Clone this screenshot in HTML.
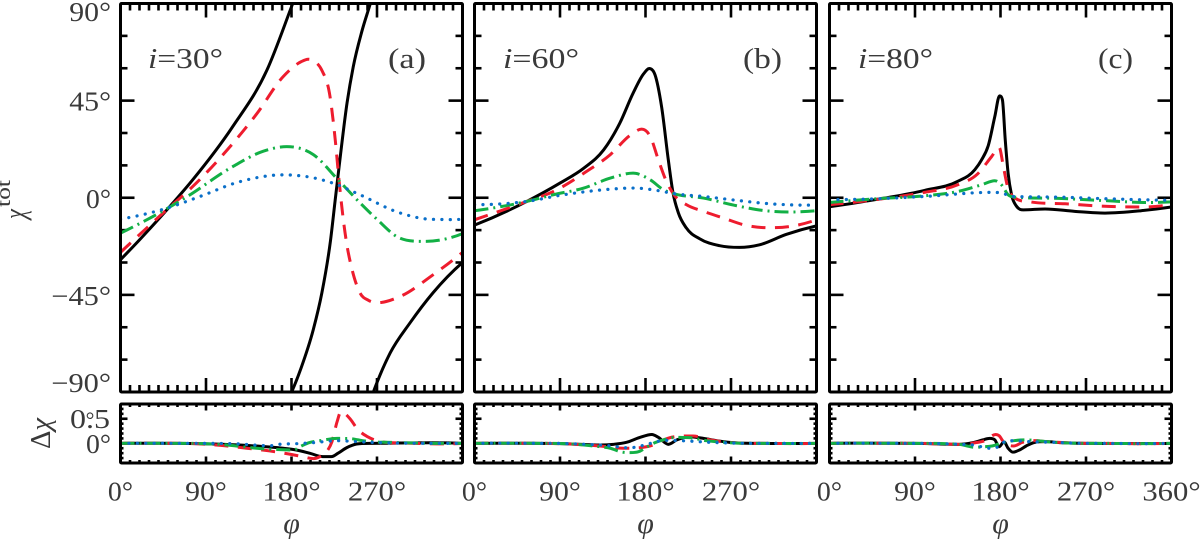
<!DOCTYPE html>
<html lang="en">
<head>
<meta charset="utf-8">
<title>Chi total versus phi</title>
<style>
html,body{margin:0;padding:0;background:#fff;width:1200px;height:539px;overflow:hidden}
svg{display:block}
text{font-family:"Liberation Serif",serif;fill:#3a3a3a}
</style>
</head>
<body>
<svg id="chart" xmlns="http://www.w3.org/2000/svg" width="1200" height="539" viewBox="0 0 1200 539">
  <text transform="translate(25,219) rotate(-90) scale(0.8,1.1)" font-size="28" font-style="italic">χ</text>
  <text transform="translate(10,207) rotate(-90)" font-size="20" textLength="27" lengthAdjust="spacingAndGlyphs">tot</text>
  <text transform="translate(50,449) rotate(-90)" font-size="29" textLength="31" lengthAdjust="spacingAndGlyphs">Δ<tspan font-style="italic">χ</tspan></text>
  <text x="148" y="68" font-size="29" textLength="75" lengthAdjust="spacingAndGlyphs"><tspan font-style="italic">i</tspan>=30°</text>
  <text x="388" y="68" font-size="29" textLength="38" lengthAdjust="spacingAndGlyphs">(a)</text>
  <text x="503" y="68" font-size="29" textLength="76" lengthAdjust="spacingAndGlyphs"><tspan font-style="italic">i</tspan>=60°</text>
  <text x="743" y="68" font-size="29" textLength="39" lengthAdjust="spacingAndGlyphs">(b)</text>
  <text x="858" y="68" font-size="29" textLength="75" lengthAdjust="spacingAndGlyphs"><tspan font-style="italic">i</tspan>=80°</text>
  <text x="1098" y="68" font-size="29" textLength="35" lengthAdjust="spacingAndGlyphs">(c)</text>
  <text x="291.5" y="533" font-size="30" font-style="italic" text-anchor="middle">φ</text>
  <text x="645.5" y="533" font-size="30" font-style="italic" text-anchor="middle">φ</text>
  <text x="1000.5" y="533" font-size="30" font-style="italic" text-anchor="middle">φ</text>
  <text x="110" y="428" font-size="27" text-anchor="end" textLength="40" lengthAdjust="spacingAndGlyphs">0.5</text>
  <text x="90" y="427" font-size="22" text-anchor="middle">°</text>
  <text x="111" y="453" font-size="27" text-anchor="end" textLength="25" lengthAdjust="spacingAndGlyphs">0°</text>
</svg>
<script>
// ---------- tick values and labels ----------
const chiMajorTicks = [-90, -45, 0, 45, 90];
const chiMinorTicks = [-75, -60, -30, -15, 15, 30, 60, 75];
const chiTickLabels = ['−90°', '−45°', '0°', '45°', '90°'];
const resMajorTicks = [0, 0.5];
const resMinorTicks = [-0.3, -0.2, -0.1, 0.1, 0.2, 0.3, 0.4, 0.6, 0.7];
const phiMajorTicks = [0, 90, 180, 270, 360];
const phiTickLabelsAB = ['0°', '90°', '180°', '270°'];
const phiTickLabelsC = ['0°', '90°', '180°', '270°', '360°'];

// ---------- panel (a) main, values in degrees; null breaks a wrapped curve ----------
const phiABlack = [0, 20, 47, 76, 118, 154, 180, 183, null, 178.6, 190, 203, 212, 221, 226, 230, 238.5, 245, 254, 263, 265, null, 264.5, 284, 304.7, 329, 360];
const chiABlack = [-28.7, -19.5, -6.5, 8.3, 32.9, 59, 88.5, 92, null, -91.5, -79, -61, -44, -20, -1, 14, 44, 60.7, 77, 90, 93, null, -92, -71.8, -58, -44, -30];
const phiARed = [0, 45, 80, 112, 143.6, 171, 190, 197.5, 205, 212, 220.5, 226, 230, 234.5, 238, 243.6, 252, 261, 271, 294, 329, 360];
const chiARed = [-25.3, -7, 6.9, 22, 39, 56, 63, 64.2, 63, 59, 47, 27, 8.3, -10, -21, -33, -44, -47.5, -48.6, -45.8, -35.7, -25.3];
const phiAGreen = [0, 45, 70, 118, 150, 175, 203, 229, 252, 270, 294, 319, 340, 360];
const chiAGreen = [-16.4, -6, 0.5, 14.4, 21.5, 23.7, 20, 8.3, -2.3, -10, -18.7, -20.2, -19.3, -16.6];
const phiABlue = [0, 49, 83.7, 126, 171, 200, 224, 252, 294, 329, 360];
const chiABlue = [-9.9, -4.8, 0.6, 7.5, 10.6, 9.5, 6.7, 1.4, -7, -10, -9.9];

// ---------- panel (b) main ----------
const phiBBlack = [0, 55, 90, 115, 136, 153, 167, 178, 184, 190, 197, 204, 209, 214.6, 223, 237, 258, 279, 300, 328, 360];
const chiBBlack = [-12.7, -1.7, 6.8, 13.7, 22.2, 34.6, 48.5, 57.4, 59.9, 57, 42, 17.6, 2.2, -7, -14, -19, -22.2, -23, -21.8, -17, -13];
const phiBRed = [0, 55, 83, 118, 143, 164, 176, 185, 193.5, 202, 210, 223, 241, 262, 286, 311, 332, 360];
const chiBRed = [-10.2, -1.7, 2.9, 12.2, 20, 29, 31.8, 28.4, 17.6, 7.6, 1.4, -3.2, -6.3, -9.4, -12.8, -13.9, -13.3, -10.2];
const phiBGreen = [0, 55, 83, 115, 143, 167, 185, 199, 210, 241, 276, 304, 332, 360];
const chiBGreen = [-6, -1.7, 1.4, 4.5, 9.1, 11.4, 8.3, 3.7, 1.9, -0.15, -3.7, -5.9, -6.6, -6];
const phiBBlue = [0, 55, 94, 136, 167, 192, 210, 241, 276, 311, 360];
const chiBBlue = [-3.2, -1.7, 1.4, 3.7, 4.5, 3.4, 1.9, 0.6, -1.2, -2.8, -3.4];

// ---------- panel (c) main ----------
const phiCBlack = [0, 48, 100, 135, 153, 160, 167, 174, 179, 182, 185, 188, 191.6, 197, 204, 227, 258, 290, 328, 360];
const chiCBlack = [-4.2, -0.9, 3.4, 7.6, 13, 17.5, 24, 37.6, 47.2, 45.4, 26.8, 11.4, 1.4, -4, -5.6, -5.2, -6.3, -7.1, -6, -4.3];
const phiCRed = [0, 48, 100, 135, 156, 170.5, 178.6, 183, 187.4, 193, 212.6, 248, 293, 328, 360];
const chiCRed = [-3.2, -0.9, 2.5, 6, 11.1, 19, 23.3, 14.5, 5.2, 0.6, -2, -2.8, -4, -4.3, -3.2];
const phiCGreen = [0, 48, 100, 135, 160, 174, 181, 188, 195, 241, 293, 332, 360];
const chiCGreen = [-2.2, -0.5, 0.9, 2.9, 6, 7.9, 6, 1.4, 0.3, -0.3, -1.4, -2.2, -1.9];
const phiCBlue = [0, 48, 100, 170, 181, 193, 241, 293, 360];
const chiCBlue = [-0.9, -0.5, 0.6, 2.5, 2.2, 0.6, 0.3, -0.5, -1.2];

// ---------- residual panels ----------
const phiResABlack = [0, 60, 98, 130, 157, 171, 185, 199, 213, 222, 229, 238, 248.6, 262, 360];
const resABlack = [0, 0, -0.014, -0.04, -0.075, -0.1, -0.135, -0.2, -0.27, -0.27, -0.2, -0.09, -0.014, 0, 0];
const phiResARed = [0, 60, 98, 133, 157, 178, 189, 203, 210, 217, 222.6, 228, 232, 242, 249, 260, 270, 295, 360];
const resARed = [0, 0, -0.03, -0.1, -0.155, -0.22, -0.26, -0.31, -0.27, -0.17, 0.034, 0.44, 0.64, 0.49, 0.3, 0.135, 0.054, 0.007, 0];
const phiResAGreen = [0, 60, 98, 157, 182, 191, 198, 212, 228, 242, 256, 295, 360];
const resAGreen = [0, 0, -0.014, -0.12, -0.135, -0.05, 0.01, 0.06, 0.1, 0.095, 0.05, 0.014, 0];
const phiResABlue = [0, 80, 119, 157, 167, 186, 203, 228, 249, 273, 320, 360];
const resABlue = [0, 0, -0.007, -0.05, -0.02, -0.007, 0.014, 0.054, 0.034, 0.014, 0, 0];

const phiResBBlack = [0, 70, 100, 132, 146, 160, 174, 186.7, 193.7, 204, 213, 225.7, 241, 255, 268.5, 295, 360];
const resBBlack = [0, 0, -0.01, -0.034, -0.02, 0.02, 0.12, 0.18, 0.12, -0.02, 0.07, 0.135, 0.1, 0.054, 0.02, 0, 0];
const phiResBRed = [0, 70, 100, 132, 157, 176, 188, 197, 211, 230, 248, 268, 295, 360];
const resBRed = [0, 0, -0.014, -0.054, -0.1, -0.085, -0.034, 0.054, 0.135, 0.15, 0.07, 0.02, 0, 0];
const phiResBGreen = [0, 70, 103, 132, 143, 153.3, 162, 172.7, 181, 190, 198.7, 211, 226, 244, 268, 295, 360];
const resBGreen = [0, 0, -0.014, -0.07, -0.1, -0.17, -0.19, -0.17, -0.08, 0.014, 0.07, 0.12, 0.115, 0.054, 0.014, 0, 0];
const phiResBBlue = [0, 80, 118, 132, 151, 160, 169, 177.7, 186.7, 195.4, 204, 222, 248, 268, 295, 360];
const resBBlue = [0, 0, -0.02, -0.034, -0.07, -0.09, -0.08, -0.04, 0.007, 0.05, 0.06, 0.05, 0.02, 0.007, 0, 0];

const phiResCBlack = [0, 90, 137, 151, 161.5, 168.7, 174, 178.5, 183.7, 188, 193, 200, 207, 216, 228, 242, 270, 360];
const resCBlack = [0, 0, -0.02, 0.014, 0.07, 0.1, 0.07, -0.07, 0.03, -0.1, -0.18, -0.135, -0.054, 0.02, 0.034, 0.014, 0, 0];
const phiResCRed = [0, 90, 137, 154, 163, 175, 178.5, 183, 194, 203, 216, 228, 242, 270, 360];
const resCRed = [0, 0, -0.02, 0.014, 0.05, 0.18, 0.155, 0.034, -0.054, 0.02, 0.054, 0.034, 0.02, 0, 0];
const phiResCGreen = [0, 90, 137, 144, 152.6, 163, 171, 183.7, 194, 208, 220, 242, 270, 360];
const resCGreen = [0, 0, -0.02, -0.05, -0.08, -0.07, -0.054, 0.02, 0.054, 0.07, 0.05, 0.014, 0, 0];
const phiResCBlue = [0, 90, 137, 151, 160, 168.7, 177.5, 184.5, 193, 210, 237, 270, 360];
const resCBlue = [0, 0, -0.02, -0.034, -0.07, -0.1, -0.07, 0.034, 0.054, 0.034, 0.02, 0, 0];

// ---------- drawing ----------
const SVGNS = 'http://www.w3.org/2000/svg';
const svg = document.getElementById('chart');

const mainTop = 3.5, mainBottom = 392;
const resTop = 404, resBottom = 463;
const chiMin = -90, chiMax = 90;
const resMin = -0.4, resMax = 0.8;
const phiMin = 0, phiMax = 360;

const styles = {
  black: { color: '#000000', dash: null, cap: 'butt' },
  red: { color: '#ee1c2e', dash: '14 9.5', cap: 'butt' },
  green: { color: '#12b045', dash: '14 5 2 5', cap: 'butt' },
  blue: { color: '#0a6fc9', dash: '0.1 8.3', cap: 'round' }
};

const panels = [
  { id: 'a', left: 120.5, right: 462.5, labels: phiTickLabelsAB, showChi: true,
    main: [['black', phiABlack, chiABlack], ['red', phiARed, chiARed], ['green', phiAGreen, chiAGreen], ['blue', phiABlue, chiABlue]],
    res: [['black', phiResABlack, resABlack], ['red', phiResARed, resARed], ['green', phiResAGreen, resAGreen], ['blue', phiResABlue, resABlue]] },
  { id: 'b', left: 474.5, right: 816.5, labels: phiTickLabelsAB, showChi: false,
    main: [['black', phiBBlack, chiBBlack], ['red', phiBRed, chiBRed], ['green', phiBGreen, chiBGreen], ['blue', phiBBlue, chiBBlue]],
    res: [['black', phiResBBlack, resBBlack], ['red', phiResBRed, resBRed], ['green', phiResBGreen, resBGreen], ['blue', phiResBBlue, resBBlue]] },
  { id: 'c', left: 829.5, right: 1171.5, labels: phiTickLabelsC, showChi: false,
    main: [['black', phiCBlack, chiCBlack], ['red', phiCRed, chiCRed], ['green', phiCGreen, chiCGreen], ['blue', phiCBlue, chiCBlue]],
    res: [['black', phiResCBlack, resCBlack], ['red', phiResCRed, resCRed], ['green', phiResCGreen, resCGreen], ['blue', phiResCBlue, resCBlue]] }
];

function scale(v, d0, d1, r0, r1) {
  return r0 + (v - d0) / (d1 - d0) * (r1 - r0);
}

function make(tag, attrs, parent) {
  const el = document.createElementNS(SVGNS, tag);
  for (const k in attrs) el.setAttribute(k, attrs[k]);
  (parent || svg).appendChild(el);
  return el;
}

// Smooth cubic path through one unbroken run of points, tangents from a
// three-point parabola and limited so that the peaks stay where they were read.
function smoothPath(xs, ys) {
  const n = xs.length;
  if (n < 2) return '';
  const d = [], m = [];
  for (let i = 0; i < n - 1; i++) d.push((ys[i + 1] - ys[i]) / (xs[i + 1] - xs[i]));
  if (n === 2) { m.push(d[0], d[0]); }
  else {
    const h0s = xs[1] - xs[0], h1s = xs[2] - xs[1];
    m.push(d[0] * (1 + h0s / (h0s + h1s)) - d[1] * h0s / (h0s + h1s));
    for (let i = 1; i < n - 1; i++) {
      if (d[i - 1] * d[i] <= 0) { m.push(0); continue; }
      const h0 = xs[i] - xs[i - 1], h1 = xs[i + 1] - xs[i];
      const par = (d[i - 1] * h1 + d[i] * h0) / (h0 + h1);
      const lim = 3 * Math.min(Math.abs(d[i - 1]), Math.abs(d[i]));
      m.push(Math.sign(par) * Math.min(Math.abs(par), lim));
    }
    const h0e = xs[n - 2] - xs[n - 3], h1e = xs[n - 1] - xs[n - 2];
    m.push(d[n - 2] * (1 + h1e / (h0e + h1e)) - d[n - 3] * h1e / (h0e + h1e));
  }
  let p = 'M' + xs[0].toFixed(2) + ' ' + ys[0].toFixed(2);
  for (let i = 0; i < n - 1; i++) {
    const h = (xs[i + 1] - xs[i]) / 3;
    p += 'C' + (xs[i] + h).toFixed(2) + ' ' + (ys[i] + m[i] * h).toFixed(2) + ' ' +
         (xs[i + 1] - h).toFixed(2) + ' ' + (ys[i + 1] - m[i + 1] * h).toFixed(2) + ' ' +
         xs[i + 1].toFixed(2) + ' ' + ys[i + 1].toFixed(2);
  }
  return p;
}

function curvePath(phis, vals, sx, sy) {
  let path = '', runX = [], runY = [];
  for (let i = 0; i <= phis.length; i++) {
    if (i === phis.length || phis[i] === null) {
      path += smoothPath(runX, runY);
      runX = [];
      runY = [];
    } else {
      runX.push(sx(phis[i]));
      runY.push(sy(vals[i]));
    }
  }
  return path;
}

function addTick(parent, x1, y1, x2, y2) {
  const t = make('line', { x1: x1, y1: y1, x2: x2, y2: y2, stroke: '#000', 'stroke-width': 2.6 }, parent);
  
  
}

function drawAxes(group, left, right, top, bottom, sx, sy, yMajor, yMinor, xMajLen, xMinLen, yMajLen, yMinLen) {
  for (let p = phiMin; p <= phiMax; p += 10) {
    if (p === phiMin || p === phiMax) continue;
    const len = phiMajorTicks.includes(p) ? xMajLen : xMinLen;
    addTick(group, sx(p), top, sx(p), top + len);
    addTick(group, sx(p), bottom, sx(p), bottom - len);
  }
  yMajor.forEach(function (v) {
    if (sy(v) <= top + 1 || sy(v) >= bottom - 1) return;
    addTick(group, left, sy(v), left + yMajLen, sy(v));
    addTick(group, right, sy(v), right - yMajLen, sy(v));
  });
  yMinor.forEach(function (v) {
    addTick(group, left, sy(v), left + yMinLen, sy(v));
    addTick(group, right, sy(v), right - yMinLen, sy(v));
  });
}

function drawFrame(group, left, right, top, bottom, name) {
  const r = make('rect', { x: left, y: top, width: right - left, height: bottom - top, fill: 'none', stroke: '#000', 'stroke-width': 3, rx: 1 }, group);
  
  
}

function drawSeries(group, list, sx, sy, clipId, prefix) {
  list.forEach(function (s) {
    const st = styles[s[0]];
    const attrs = { d: curvePath(s[1], s[2], sx, sy), fill: 'none', stroke: st.color, 'stroke-width': s[0] === 'blue' ? 3.2 : 3, 'stroke-linecap': st.cap, 'stroke-linejoin': 'round', 'clip-path': 'url(#' + clipId + ')' };
    if (st.dash) attrs['stroke-dasharray'] = st.dash;
    const path = make('path', attrs, group);
    
    
  });
}

const defs = make('defs', {});

panels.forEach(function (pn) {
  const sx = function (p) { return scale(p, phiMin, phiMax, pn.left, pn.right); };
  const syMain = function (v) { return scale(v, chiMin, chiMax, mainBottom, mainTop); };
  const syRes = function (v) { return scale(v, resMin, resMax, resBottom, resTop); };

  const g = make('g', {});
  
  

  const clipMain = make('clipPath', { id: 'clip-main-' + pn.id }, defs);
  make('rect', { x: pn.left, y: mainTop, width: pn.right - pn.left, height: mainBottom - mainTop }, clipMain);
  const clipRes = make('clipPath', { id: 'clip-res-' + pn.id }, defs);
  make('rect', { x: pn.left, y: resTop, width: pn.right - pn.left, height: resBottom - resTop }, clipRes);

  drawAxes(g, pn.left, pn.right, mainTop, mainBottom, sx, syMain, chiMajorTicks, chiMinorTicks, 14, 7, 14, 7);
  drawSeries(g, pn.main, sx, syMain, 'clip-main-' + pn.id, 'panel-' + pn.id);
  drawFrame(g, pn.left, pn.right, mainTop, mainBottom, 'panel-' + pn.id + '-main-frame');

  drawAxes(g, pn.left, pn.right, resTop, resBottom, sx, syRes, resMajorTicks, resMinorTicks, 6.5, 3, 7, 3);
  drawSeries(g, pn.res, sx, syRes, 'clip-res-' + pn.id, 'panel-' + pn.id + '-residual');
  drawFrame(g, pn.left, pn.right, resTop, resBottom, 'panel-' + pn.id + '-residual-frame');

  pn.labels.forEach(function (lab, i) {
    const digits = lab.length - 1;
    const t = make('text', { x: sx(phiMajorTicks[i]), y: 500.7, 'font-size': 27, 'text-anchor': 'middle', textLength: digits * 16.6 + 8.5, lengthAdjust: 'spacingAndGlyphs' }, g);
    
    
    t.textContent = lab;
  });

  if (pn.showChi) {
    chiMajorTicks.forEach(function (v, i) {
      const lab = chiTickLabels[i];
      const base = Math.max(21, Math.min(392, syMain(v) + 10));
      const digits = lab.replace('−', '').length - 1;
      const minus = lab.charAt(0) === '−' ? 18 : 0;
      const t = make('text', { x: 111, y: base, 'font-size': 27, 'text-anchor': 'end', textLength: digits * 16.6 + 8.5 + minus, lengthAdjust: 'spacingAndGlyphs' }, g);
      
      
      t.textContent = lab;
    });
  }
});
</script>
</body>
</html>
